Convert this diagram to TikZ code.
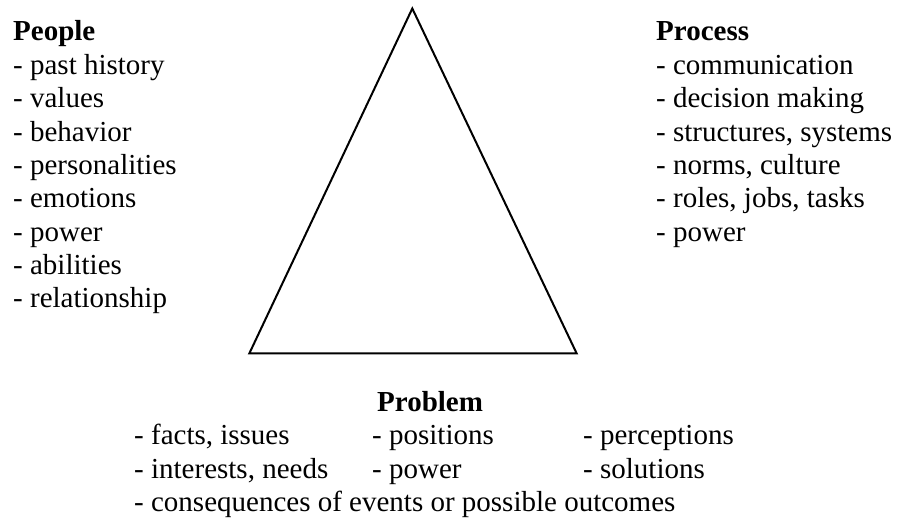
\documentclass[tikz,border=0pt]{standalone}
\usepackage{fontspec}
\setmainfont{Liberation Serif}
\begin{document}
\begin{tikzpicture}[x=1pt, y=-1pt,
  item/.style={anchor=base west, inner sep=0pt, font=\fontsize{29}{33.35}\selectfont},
  head/.style={item, font=\fontsize{29}{33.35}\selectfont\bfseries},
  tri/.style={draw, line width=2pt, line join=miter}]
  \useasboundingbox (0,0) rectangle (897,518);

  % the triangle
  \coordinate (apex) at (412.3,8.5);
  \coordinate (bl) at (249.3,353.5);
  \coordinate (br) at (576.7,353.5);
  \draw[tri] (apex) -- (bl) -- (br) -- cycle;

  % People column
  \node[head] (people) at (13,41) {People};
  \foreach [count=\i] \t in {past history, values, behavior, personalities,
      emotions, power, abilities, relationship}
    \node[item] (people-\i) at (13,41+33.35*\i) {- \t};

  % Process column
  \node[head] (process) at (656,41) {Process};
  \foreach [count=\i] \t in {communication, decision making, {structures, systems},
      {norms, culture}, {roles, jobs, tasks}, power}
    \node[item] (process-\i) at (656,41+33.35*\i) {- \t};

  % Problem block
  \node[head] (problem) at (377,411.7) {Problem};
  \node[item] (facts)     at (134,445) {- facts, issues};
  \node[item] (positions) at (372,445) {- positions};
  \node[item] (percept)   at (583,445) {- perceptions};
  \node[item] (interests) at (134,478.3) {- interests, needs};
  \node[item] (power)     at (372,478.3) {- power};
  \node[item] (solutions) at (583,478.3) {- solutions};
  \node[item] (conseq)    at (134,511.6) {- consequences of events or possible outcomes};
\end{tikzpicture}
\end{document}
